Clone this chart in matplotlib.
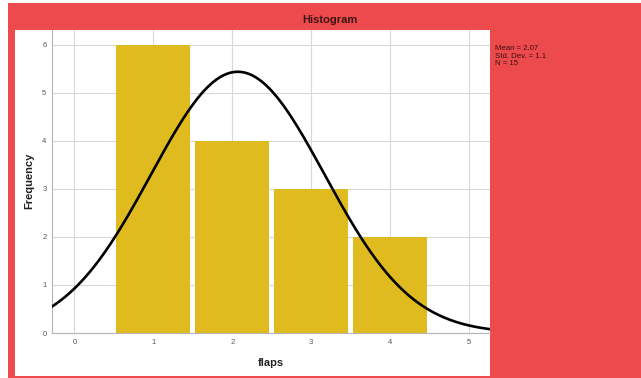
import numpy as np
import matplotlib
matplotlib.use("Agg")
import matplotlib.pyplot as plt
from matplotlib.patches import Rectangle

# data
flaps = [1, 2, 3, 4]
counts = [6, 4, 3, 2]
mean = 2.07
std_dev = 1.1
n = 15

plt.rcParams['font.family'] = ['Liberation Sans', 'DejaVu Sans']

W, H = 641, 378
fig = plt.figure(figsize=(W / 100, H / 100), dpi=100)
fig.patch.set_facecolor("#EC4A4C")

# white strips at the top and left, white panel behind the chart
fig.patches.append(Rectangle((0, (H - 3) / H), 1, 3 / H, transform=fig.transFigure,
                             facecolor="white", edgecolor="none", zorder=-5))
fig.patches.append(Rectangle((0, 0), 8 / W, 1, transform=fig.transFigure,
                             facecolor="white", edgecolor="none", zorder=-5))
fig.patches.append(Rectangle((15 / W, (H - 376) / H), 475 / W, 346 / H,
                             transform=fig.transFigure,
                             facecolor="white", edgecolor="none", zorder=-5))

ax = fig.add_axes([52 / W, (H - 333) / H, 438 / W, 303 / H])
ax.set_zorder(1)
ax.set_facecolor("white")

ax.bar(flaps, counts, width=0.937, color="#E0BB1F", zorder=2)

# normal curve from the stated statistics, scaled to bin width 1
xs = np.linspace(-0.3, 5.3, 400)
ys = n / (std_dev * np.sqrt(2 * np.pi)) * np.exp(-(xs - mean) ** 2 / (2 * std_dev ** 2))
ax.plot(xs, ys, color="black", lw=1.9, zorder=3)

ax.set_xlim(-0.284, 5.266)
ax.set_ylim(0, 6.31)
ax.set_xticks(range(0, 6))
ax.set_yticks(range(0, 7))
ax.grid(True, color="#d8d8d8", lw=0.8, zorder=0)
ax.set_axisbelow(True)

for s in ["top", "right"]:
    ax.spines[s].set_visible(False)
for s in ["left", "bottom"]:
    ax.spines[s].set_color("#b5b5b5")
    ax.spines[s].set_linewidth(0.8)
ax.tick_params(axis="both", labelsize=5.5, labelcolor="#555555", length=0, pad=4)

ax.set_xlabel("flaps", fontsize=8, fontweight="bold", color="#222222", labelpad=9)
fig.text(29 / W, 1 - 181 / H, "Frequency", rotation=90, fontsize=8,
         fontweight="bold", color="#222222", ha="center", va="center")

fig.text(330 / W, 1 - 20 / H, "Histogram", fontsize=8, fontweight="bold",
         color="#3a1515", ha="center", va="center")

fig.text(495 / W, 1 - 45 / H,
         f"Mean = {mean}\nStd. Dev. = {std_dev}\nN = {n}",
         fontsize=5.6, color="#3a1010", ha="left", va="top", linespacing=1.1)

fig.savefig("out.png", dpi=100, facecolor=fig.get_facecolor())
